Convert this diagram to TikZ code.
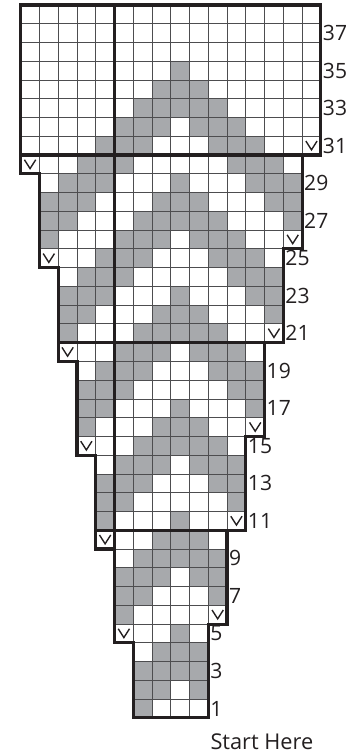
\documentclass[tikz,border=0pt]{standalone}
\usepackage{fontspec}
\setmainfont{Open Sans}
\definecolor{cellgray}{HTML}{A7A9AC}
\definecolor{gridc}{HTML}{4D4D4F}
\definecolor{inkc}{HTML}{231F20}
\begin{document}
\begin{tikzpicture}[x=0.5cm,y=0.5cm,
  graycell/.style={fill=cellgray},
  gridline/.style={draw=gridc,line width=0.7pt},
  thickline/.style={draw=inkc,line width=2.4pt},
  vmark/.style={draw=inkc,line width=1.05pt},
  rowlabel/.style={inner sep=0pt,font=\fontsize{16}{19}\selectfont,text=inkc}]
\useasboundingbox (-1.103,-1.978) rectangle (17.553,38.267);
% gray cells
\foreach \r/\cs in {1/{6},2/{6,7,9},3/{6,7,8,9},4/{7,8,9},5/{8},
  6/{5},7/{5,6,10},8/{5,6,7,9,10},9/{6,7,8,9,10},10/{7,8,9},
  11/{4,8},12/{4,5,11},13/{4,5,6,10,11},14/{5,6,7,9,10,11},15/{6,7,8,9,10},
  16/{3,7,8,9},17/{3,4,8,12},18/{3,4,5,11,12},19/{4,5,6,10,11,12},20/{5,6,7,9,10,11},
  21/{2,6,7,8,9,10},22/{2,3,7,8,9,13},23/{2,3,4,8,12,13},24/{3,4,5,11,12,13},25/{4,5,6,10,11,12},
  26/{1,5,6,7,9,10,11},27/{1,2,6,7,8,9,10,14},28/{1,2,3,7,8,9,13,14},29/{2,3,4,8,12,13,14},30/{3,4,5,11,12,13},
  31/{4,5,6,10,11,12},32/{5,6,7,9,10,11},33/{6,7,8,9,10},34/{7,8,9},35/{8}}{
  \foreach \c in \cs {\fill[graycell] (\c,\r-1) rectangle ++(1,1);}
}
% grid
\foreach \r/\L/\Rl in {1/6/9,2/6/9,3/6/9,4/6/9,5/5/9,
  6/5/10,7/5/10,8/5/10,9/5/10,10/4/10,
  11/4/11,12/4/11,13/4/11,14/4/11,15/3/11,
  16/3/12,17/3/12,18/3/12,19/3/12,20/2/12,
  21/2/13,22/2/13,23/2/13,24/2/13,25/1/13,
  26/1/14,27/1/14,28/1/14,29/1/14,30/0/14,
  31/0/15,32/0/15,33/0/15,34/0/15,35/0/15,36/0/15,37/0/15,38/0/15}{
  \foreach \c in {\L,...,\Rl} {\draw[gridline] (\c,\r-1) rectangle ++(1,1);}
}
% increase marks
\foreach \r/\c in {30/0,25/1,20/2,15/3,10/4,5/5,31/15,26/14,21/13,16/12,11/11,6/10}{
  \draw[vmark] (\c+0.2,\r-0.25) -- (\c+0.5,\r-0.72) -- (\c+0.8,\r-0.25);
}
% heavy lines
\draw[thickline,line cap=rect] (5,9) -- (5,38);
\draw[thickline,line cap=rect] (0,30) -- (15,30);
\draw[thickline,line cap=rect] (2,20) -- (14,20);
\draw[thickline,line cap=rect] (4,10) -- (12,10);
\draw[thickline] (0,38) -- (16,38) -- (16,30) -- (15,30) -- (15,25) -- (14,25) -- (14,20)
  -- (13,20) -- (13,15) -- (12,15) -- (12,10) -- (11,10) -- (11,5) -- (10,5) -- (10,0)
  -- (6,0) -- (6,4) -- (5,4) -- (5,9) -- (4,9) -- (4,14) -- (3,14) -- (3,19) -- (2,19)
  -- (2,24) -- (1,24) -- (1,29) -- (0,29) -- cycle;
% row numbers
\foreach \r/\xr in {1/10,3/10,5/10,7/11,9/11,11/12,13/12,15/12,17/13,19/13,21/14,23/14,
  25/14,27/15,29/15,31/16,33/16,35/16,37/16}{
  \node[rowlabel,anchor=west] (lab\r) at (\xr+0.1,\r-0.5) {\r};
}
\node[rowlabel,anchor=base,font=\fontsize{16.5}{20}\selectfont] (start) at (12.86,-1.68) {Start Here};
\end{tikzpicture}
\end{document}
